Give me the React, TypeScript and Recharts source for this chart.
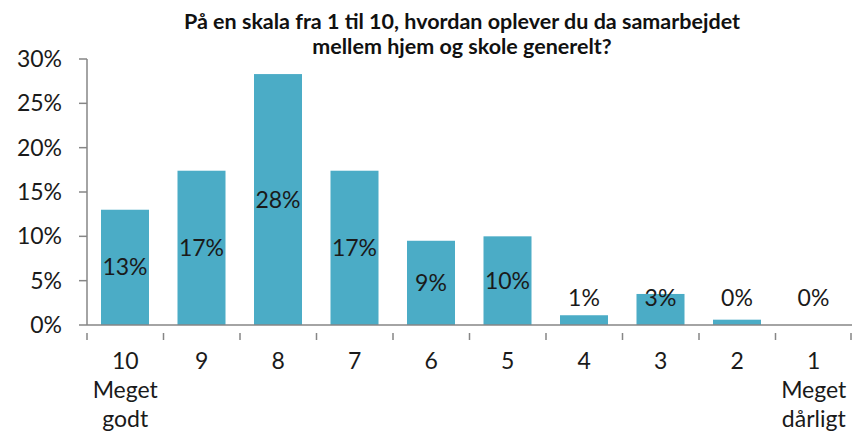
import React from "react";
import { BarChart, Bar, XAxis, YAxis, LabelList } from "recharts";

const categories = ["10", "9", "8", "7", "6", "5", "4", "3", "2", "1"];
const subLabels = [["Meget", "godt"], [], [], [], [], [], [], [], [], ["Meget", "dårligt"]];
const values = [13.0, 17.4, 28.3, 17.4, 9.5, 10.0, 1.1, 3.5, 0.6, 0];
const valueLabels = ["13%", "17%", "28%", "17%", "9%", "10%", "1%", "3%", "0%", "0%"];
const yTicks = [0, 5, 10, 15, 20, 25, 30];

const data = categories.map((c, i) => ({ cat: c, value: values[i], label: valueLabels[i], idx: i }));

const W = 852;
const H = 436;
const LEFT = 87;
const TOP = 59;
const BOTTOM = 111;
const FONT = "Lato, 'Open Sans', sans-serif";
const TEXT = "#1a1a1a";
const AXIS = "#868686";
const BAND = (W - LEFT) / categories.length;
const FS = 23;

const XTick = (props: any) => {
  const { x, y, payload, index } = props;
  const i = typeof index === "number" ? index : categories.indexOf(payload.value);
  const lines = [payload.value, ...(subLabels[i] || [])];
  return (
    <g>
      <line x1={x - BAND / 2} x2={x - BAND / 2} y1={y} y2={y + 7} stroke={AXIS} strokeWidth={1.5} />
      {i === categories.length - 1 && (
        <line x1={x + BAND / 2 - 1} x2={x + BAND / 2 - 1} y1={y} y2={y + 7} stroke={AXIS} strokeWidth={1.5} />
      )}
      <text x={x} y={y + 36} textAnchor="middle" fontFamily={FONT} fontSize={FS} fill={TEXT}>
        {lines.map((l, k) => (
          <tspan key={k} x={x} dy={k === 0 ? 0 : 29}>
            {l}
          </tspan>
        ))}
      </text>
    </g>
  );
};

const BarShape = (props: any) => {
  const { x, y, width, height, fill, payload } = props;
  if (!payload || !(payload.value > 0)) return <g />;
  return <rect x={x} y={y} width={width} height={height} fill={fill} />;
};

const BarLabel = (props: any) => {
  const { x, y, width, height, value } = props;
  const base = y + height;
  const cy = Math.min(y + height / 2, base - 27);
  return (
    <text x={x + width / 2} y={cy} dy={8} textAnchor="middle" fontFamily={FONT} fontSize={FS} fill={TEXT}>
      {value}
    </text>
  );
};

export default function App() {
  return (
    <div style={{ position: "absolute", left: 0, top: 0, width: W, height: H, background: "#fff" }}>
      <BarChart width={W} height={H} data={data} margin={{ top: TOP, right: 0, left: 0, bottom: 0 }}>
        <text x={462} y={29} textAnchor="middle" fontFamily={FONT} fontWeight="bold" fontSize={21.5} fill="#111">
          På en skala fra 1 til 10, hvordan oplever du da samarbejdet
        </text>
        <text x={462} y={54} textAnchor="middle" fontFamily={FONT} fontWeight="bold" fontSize={21.5} fill="#111">
          mellem hjem og skole generelt?
        </text>
        <YAxis
          width={LEFT}
          domain={[0, 30]}
          ticks={yTicks}
          tickFormatter={(v: number) => `${v}%`}
          axisLine={{ stroke: AXIS, strokeWidth: 1.5 }}
          tickLine={{ stroke: AXIS, strokeWidth: 1.5 }}
          tickSize={8}
          tickMargin={17}
          tick={{ fontFamily: FONT, fontSize: FS, fill: TEXT }}
          interval={0}
        />
        <XAxis
          dataKey="cat"
          height={BOTTOM}
          interval={0}
          tickLine={false}
          axisLine={{ stroke: AXIS, strokeWidth: 1.5 }}
          tick={<XTick />}
        />
        <Bar dataKey="value" fill="#4BACC6" barSize={48} minPointSize={1} shape={<BarShape />} isAnimationActive={false}>
          <LabelList dataKey="label" content={<BarLabel />} />
        </Bar>
      </BarChart>
    </div>
  );
}
